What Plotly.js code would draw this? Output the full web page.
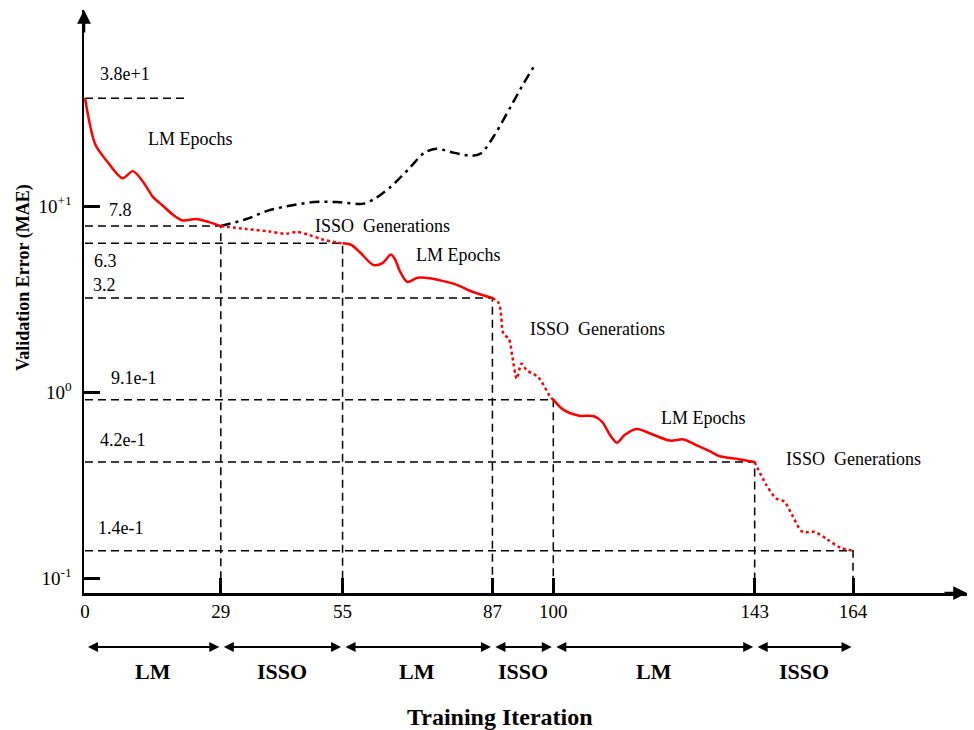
<!DOCTYPE html>
<html>
<head>
<meta charset="utf-8">
<script src="https://cdn.plot.ly/plotly-3.0.1.min.js"></script>
<style>
  html, body { margin: 0; padding: 0; background: #fff; }
  #chart { width: 974px; height: 730px; }
</style>
</head>
<body>
<div id="chart"></div>
<script>
// Phase boundaries (training iteration) and the validation error reached at each one
const boundaries = [0, 29, 55, 87, 100, 143, 164];
const levels = [38, 7.8, 6.3, 3.2, 0.91, 0.42, 0.14];
const levelLabels = ['3.8e+1', '7.8', '6.3', '3.2', '9.1e-1', '4.2e-1', '1.4e-1'];
const phaseNames = ['LM', 'ISSO', 'LM', 'ISSO', 'LM', 'ISSO'];
const phaseNotes = ['LM Epochs', 'ISSO\u00a0 Generations', 'LM Epochs',
                    'ISSO\u00a0 Generations', 'LM Epochs', 'ISSO\u00a0 Generations'];

// Hybrid training curve, one segment per phase
const lm1Iter = [0, 2.2, 4.7, 8.0, 10.2, 12.3, 14.5, 16.5, 18.8, 20.8, 23.7, 26.3, 29];
const lm1Err  = [38, 21.4, 17.4, 14.1, 15.4, 13.6, 11.2, 10.1, 8.97, 8.36, 8.51, 8.22, 7.8];

const isso1Iter = [29, 34.5, 39.4, 42.9, 45.2, 47.5, 50.5, 53.9, 55];
const isso1Err  = [7.8, 7.52, 7.30, 7.09, 7.25, 7.04, 6.63, 6.35, 6.3];

const lm2Iter = [55, 56.8, 58.7, 61.6, 63.6, 65.3, 66.2, 67.2, 68.8, 71.0, 73.6, 76.1, 79.4, 82.7, 87];
const lm2Err  = [6.3, 6.19, 5.64, 4.82, 4.95, 5.49, 5.17, 4.48, 3.91, 4.11, 4.09, 3.97, 3.77, 3.46, 3.2];

const isso2Iter = [87, 88.4, 89.4, 90.5, 91.2, 92.2, 93.2, 94.3, 96.8, 99.4, 100];
const isso2Err  = [3.2, 2.99, 2.04, 1.94, 1.58, 1.18, 1.42, 1.31, 1.20, 0.94, 0.91];

const lm3Iter = [100, 102.1, 105.5, 108.7, 110.5, 112.1, 113.6, 115.2, 117.8, 121.2, 124.9, 127.8, 130.2, 133.6, 135.4, 139.6, 143];
const lm3Err  = [0.91, 0.804, 0.746, 0.741, 0.688, 0.587, 0.534, 0.587, 0.633, 0.591, 0.548, 0.556, 0.523, 0.478, 0.453, 0.435, 0.42];

const isso3Iter = [143, 145.4, 147.5, 149.3, 151.0, 153.2, 155.8, 158.4, 161.2, 164];
const isso3Err  = [0.42, 0.319, 0.269, 0.258, 0.218, 0.177, 0.177, 0.162, 0.146, 0.14];

// LM alone, carried on past iteration 29 (error climbs again)
const lmOnlyIter = [29, 34.5, 39.1, 44.3, 48.9, 53.8, 59.5, 62.0, 65.3, 69.2, 72.4, 75.0, 78.9, 82.7, 84.7, 87.5, 90.9, 93.4, 96.3];
const lmOnlyErr  = [7.8, 8.51, 9.45, 10.1, 10.5, 10.5, 10.3, 11.0, 12.7, 15.9, 19.3, 20.3, 19.3, 18.6, 19.3, 24.2, 34.2, 44.4, 58.7];

const yTickVals = [0.1, 1, 10];
const yTickText = ['10<sup>-1</sup>', '10<sup>0</sup>', '10<sup>+1</sup>'];

// ---- layout settings ----
const SERIF = '"Liberation Serif", "Times New Roman", Times, serif';
const xRange = [-0.2135, 188.34];
const yRange = [-1.0806, 2.0538];           // log10 units
const yBottom = Math.pow(10, yRange[0]);
const startGuideEnd = 22;                    // short guide at the starting error

// where each level label sits: left edge (iteration) and vertical offset in px
const levelLabelX = [2.8, 4.6, 1.5, 1.3, 5.1, 2.8, 2.4];
const levelLabelShift = [24, 16, -18, 13, 22, 22, 23];

// phase note placement (iteration, log10 error)
const noteX = [22.5, 63.5, 79.8, 109.5, 132, 164.2];
const noteLogY = [1.3606, 0.892, 0.736, 0.3405, -0.142, -0.362];

const segments = [
  [lm1Iter, lm1Err], [isso1Iter, isso1Err], [lm2Iter, lm2Err],
  [isso2Iter, isso2Err], [lm3Iter, lm3Err], [isso3Iter, isso3Err]
];

const traces = [];

// dashed guides: from the y axis across to each boundary, then down to the x axis
const gx = [0, startGuideEnd, null];
const gy = [levels[0], levels[0], null];
for (let i = 1; i < boundaries.length; i++) {
  gx.push(0, boundaries[i], boundaries[i], null);
  gy.push(levels[i], levels[i], yBottom, null);
}
traces.push({
  x: gx, y: gy, mode: 'lines', hoverinfo: 'skip',
  line: { color: '#000', width: 1.5, dash: '8px,5px' }
});

// LM-only continuation
traces.push({
  x: lmOnlyIter, y: lmOnlyErr, mode: 'lines',
  line: { color: '#000', width: 2.5, dash: '10px,5px,3px,5px', shape: 'spline', smoothing: 0.8 }
});

// hybrid curve: solid during LM, dotted during ISSO
segments.forEach((s, i) => {
  const isLM = phaseNames[i] === 'LM';
  traces.push({
    x: s[0], y: s[1], mode: 'lines',
    line: { color: '#ff0000', width: 2.5, dash: isLM ? 'solid' : '3px,3px',
            shape: 'spline', smoothing: 0.8 }
  });
});

const annotations = [];

// axis arrow tips
annotations.push({ xref: 'paper', yref: 'paper', x: 0, y: 1, ax: 0, ay: 24, text: '',
  showarrow: true, arrowhead: 2, arrowsize: 1.1, arrowwidth: 2.5, arrowcolor: '#000' });
annotations.push({ xref: 'paper', yref: 'paper', x: 1, y: 0, ax: -24, ay: 0, text: '',
  showarrow: true, arrowhead: 2, arrowsize: 1.1, arrowwidth: 2.5, arrowcolor: '#000' });

// level labels
levels.forEach((v, i) => {
  annotations.push({
    xref: 'x', yref: 'y', x: levelLabelX[i], y: Math.log10(v),
    xanchor: 'left', yanchor: 'middle',
    yshift: levelLabelShift[i], text: levelLabels[i], showarrow: false,
    font: { family: SERIF, size: 18, color: '#000' }
  });
});

// phase notes beside the curve
phaseNotes.forEach((t, i) => {
  annotations.push({
    xref: 'x', yref: 'y', x: noteX[i], y: noteLogY[i], text: t, showarrow: false,
    xanchor: 'center', yanchor: 'middle',
    font: { family: SERIF, size: 18, color: '#000' }
  });
});

// phase spans under the axis
const spanY = -0.0926, nameY = -0.1355;
for (let i = 0; i < phaseNames.length; i++) {
  annotations.push({
    xref: 'x', axref: 'x', yref: 'paper', ayref: 'pixel',
    x: boundaries[i + 1], ax: boundaries[i], y: spanY, ay: 0, text: '',
    showarrow: true, arrowside: 'end+start', arrowhead: 2, startarrowhead: 2,
    arrowsize: 1, startarrowsize: 1, arrowwidth: 2, arrowcolor: '#000',
    standoff: 1.5, startstandoff: 1.5
  });
  annotations.push({
    xref: 'x', yref: 'paper', x: (boundaries[i] + boundaries[i + 1]) / 2, y: nameY,
    xanchor: 'center', yanchor: 'middle',
    text: '<b>' + phaseNames[i] + '</b>', showarrow: false,
    font: { family: SERIF, size: 22, color: '#000' }
  });
}

// axis titles
annotations.push({ xref: 'paper', yref: 'paper', x: 0.4711, y: -0.2127,
  xanchor: 'center', yanchor: 'middle',
  text: '<b>Training Iteration</b>', showarrow: false,
  font: { family: SERIF, size: 24, color: '#000' } });
annotations.push({ xref: 'paper', yref: 'paper', x: -0.0691, y: 0.542, textangle: -90,
  xanchor: 'center', yanchor: 'middle',
  text: '<b>Validation Error (MAE)</b>', showarrow: false,
  font: { family: SERIF, size: 18, color: '#000' } });

const layout = {
  width: 974, height: 730,
  margin: { l: 84, r: 7, t: 10, b: 137 },
  paper_bgcolor: '#fff', plot_bgcolor: '#fff',
  showlegend: false,
  font: { family: SERIF, color: '#000', size: 18 },
  xaxis: {
    range: xRange, tickvals: boundaries, ticktext: boundaries.map(String),
    ticks: 'inside', ticklen: 15, tickwidth: 3, tickcolor: '#000',
    showline: true, linewidth: 2.5, linecolor: '#000',
    showgrid: false, zeroline: false, tickfont: { family: SERIF, size: 19 }
  },
  yaxis: {
    type: 'log', range: yRange, tickvals: yTickVals, ticktext: yTickText,
    ticks: 'inside', ticklen: 16, tickwidth: 3, tickcolor: '#000',
    showline: true, linewidth: 2.5, linecolor: '#000',
    showgrid: false, zeroline: false, ticklabelstandoff: 6,
    tickfont: { family: SERIF, size: 19 }
  },
  annotations: annotations
};

Plotly.newPlot('chart', traces, layout, { displayModeBar: false, staticPlot: true });
</script>
</body>
</html>
